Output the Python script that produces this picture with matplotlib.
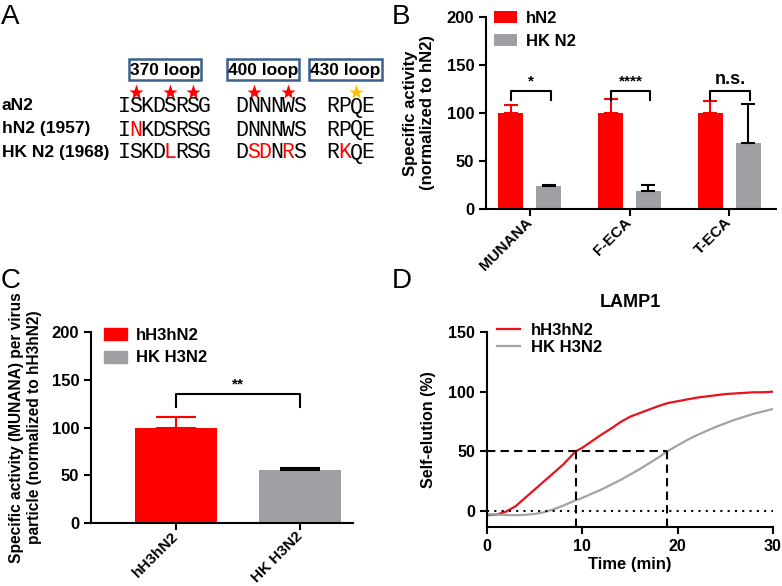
import matplotlib
matplotlib.use("Agg")
import matplotlib.pyplot as plt
from matplotlib.patches import Patch, Rectangle
import numpy as np

plt.rcParams.update({
    "font.family": "Liberation Sans",
    "font.weight": "bold",
    "axes.labelweight": "bold",
    "axes.linewidth": 1.5,
    "xtick.major.width": 1.5,
    "ytick.major.width": 1.5,
    "xtick.major.size": 5,
    "ytick.major.size": 5,
    "xtick.labelsize": 11.5,
    "ytick.labelsize": 11.5,
    "axes.spines.top": False,
    "axes.spines.right": False,
})

W, H = 782, 586
RED = "#ff0000"
GREY = "#a0a0a4"
BOX = "#3b5f8c"

# ── Panel A data ──────────────────────────────────────────────────────────────
strains = ["aN2", "hN2 (1957)", "HK N2 (1968)"]
loops = ["370 loop", "400 loop", "430 loop"]
seqs = [
    ["ISKDSRSG", "DNNNWS", "RPQE"],
    ["INKDSRSG", "DNNNWS", "RPQE"],
    ["ISKDLRSG", "DSDNRS", "RKQE"],
]
# (row, loop) -> indices of residues shown in red
red_res = {(1, 0): [1], (2, 0): [4], (2, 1): [1, 2, 4], (2, 2): [1]}
# residues marked with a star above aN2, and star colour per loop
star_res = [[1, 4, 6], [1, 4], [2]]
star_col = ["#ff0000", "#ff0000", "#ffc000"]

# ── Panel B data ──────────────────────────────────────────────────────────────
substrates = ["MUNANA", "F-ECA", "T-ECA"]
hN2_act = [100, 100, 100]
hN2_err = [8, 15, 13]
HKN2_act = [24, 19, 69]
HKN2_err = [1.5, 6, 40]
sig_B = ["*", "****", "n.s."]

# ── Panel C data ──────────────────────────────────────────────────────────────
viruses = ["hH3hN2", "HK H3N2"]
virus_act = [100, 56]
virus_err = [11, 1.5]
sig_C = "**"

# ── Panel D data (LAMP1 self-elution) ─────────────────────────────────────────
t_red = [0, 1, 2, 3, 4, 5, 6, 7, 8, 9.3, 10, 11, 12, 13, 14, 15, 16, 17, 18,
         19, 20, 21, 22, 23, 24, 25, 26, 27, 28, 29, 30]
elu_red = [-3.5, -3, -0.5, 4, 11, 18, 25, 32, 39, 50, 53, 58.5, 64, 69, 74.5,
           79, 82, 85, 88, 90.5, 92, 93.5, 95, 96, 97, 98, 98.5, 99, 99.5,
           99.5, 100]
t_grey = [0, 1, 2, 3, 4, 5, 6, 7, 8, 9, 10, 11, 12, 13, 14, 15, 16, 17, 18,
          18.9, 20, 21, 22, 23, 24, 25, 26, 27, 28, 29, 30]
elu_grey = [-2.5, -3, -3.3, -3.5, -3.2, -2.5, -1, 1.5, 4.5, 8, 11, 14.5, 18,
            22, 26, 30.5, 35, 40, 45, 50, 55, 59.5, 63.5, 67, 70.5, 73.5,
            76.5, 79, 81.5, 83.5, 85.5]
t50 = [9.3, 18.9]


def fx(x):
    return x / W


def fy(y):
    return 1 - y / H


def axes_px(left, top, right, bottom):
    return [fx(left), fy(bottom), (right - left) / W, (bottom - top) / H]


fig = plt.figure(figsize=(W / 100, H / 100), dpi=100)

# overlay in pixel coordinates for panel A and panel letters
ov = fig.add_axes([0, 0, 1, 1], zorder=-1)
ov.set_xlim(0, W)
ov.set_ylim(H, 0)
ov.axis("off")

for letter, (lx, ly) in zip("ABCD", [(1, 24), (392, 24), (1, 288), (392, 288)]):
    ov.text(lx, ly, letter, fontsize=20, fontweight="normal", va="baseline")

# ── Panel A ──
seq_x0 = [124, 242, 333]
char_w = 11.5
row_y = [106, 129, 152]
box_px = [(129, 201), (227, 299), (309, 382)]

for (bx0, bx1), name in zip(box_px, loops):
    ov.add_patch(Rectangle((bx0, 59), bx1 - bx0, 21, fill=False,
                           edgecolor=BOX, linewidth=1.8))
    ov.text((bx0 + bx1) / 2, 70, name, ha="center", va="center", fontsize=12.5)

for li, idxs in enumerate(star_res):
    xs = [seq_x0[li] + i * char_w for i in idxs]
    ov.plot(xs, [92] * len(xs), ls="none", marker="*", ms=11,
            color=star_col[li], mec="none")

for ri, (strain, row) in enumerate(zip(strains, seqs)):
    ov.text(2, row_y[ri], strain, fontsize=12.5, va="center")
    for li, s in enumerate(row):
        reds = red_res.get((ri, li), [])
        for ci, ch in enumerate(s):
            ov.text(seq_x0[li] + ci * char_w, row_y[ri] + 1, ch,
                    family="Liberation Mono", fontweight="normal",
                    fontsize=15.5, ha="center", va="center",
                    color=RED if ci in reds else "black")


def bracket(ax, x0, x1, y_low, y_top, label, size=12):
    ax.plot([x0, x0, x1, x1], [y_low, y_top, y_top, y_low], color="black",
            lw=1.5, clip_on=False)
    ax.text((x0 + x1) / 2, y_top + 3, label, ha="center", va="bottom",
            fontsize=size)


def rot_labels(ax, labels):
    ax.set_xticklabels(labels, rotation=45, ha="right", va="center",
                       rotation_mode="anchor", fontsize=11)
    ax.tick_params(axis="x", pad=3)


# ── Panel B ──
axB = fig.add_axes(axes_px(486, 17, 776, 209))
xB = np.arange(len(substrates))
off, bw = 0.19, 0.25
axB.bar(xB - off, hN2_act, bw, color=RED, label="hN2")
axB.bar(xB + off, HKN2_act, bw, color=GREY, label="HK N2")
axB.errorbar(xB - off, hN2_act, yerr=[[0] * 3, hN2_err], fmt="none",
             ecolor=RED, elinewidth=1.5, capsize=4.7, capthick=1.5)
axB.errorbar(xB + off, HKN2_act, yerr=[[0] * 3, HKN2_err], fmt="none",
             ecolor="black", elinewidth=1.5, capsize=4.7, capthick=1.5)
for i, lab in enumerate(sig_B):
    bracket(axB, xB[i] - off, xB[i] + off + 0.02, 114, 123, lab,
            size=13 if lab == "n.s." else 11)
axB.set_xlim(-0.44, 2.47)
axB.set_ylim(0, 200)
axB.set_yticks([0, 50, 100, 150, 200])
axB.tick_params(axis="y", labelsize=12)
axB.set_xticks(xB)
rot_labels(axB, substrates)
axB.set_ylabel("Specific activity\n(normalized to hN2)", fontsize=12,
               labelpad=8)
axB.legend(loc="upper left", bbox_to_anchor=(fx(494), fy(11)),
           bbox_transform=fig.transFigure, frameon=False, fontsize=12,
           handlelength=1.4, handleheight=0.7, handletextpad=0.5,
           labelspacing=0.45, borderpad=0, borderaxespad=0)

# ── Panel C ──
axC = fig.add_axes(axes_px(91, 332, 353, 523))
xC = np.arange(len(viruses))
axC.bar(xC, virus_act, 0.66, color=[RED, GREY])
axC.errorbar(xC[:1], virus_act[:1], yerr=[[0], virus_err[:1]], fmt="none",
             ecolor=RED, elinewidth=1.5, capsize=14.5, capthick=1.5)
axC.errorbar(xC[1:], virus_act[1:], yerr=[[0], virus_err[1:]], fmt="none",
             ecolor="black", elinewidth=1.5, capsize=14.5, capthick=1.5)
bracket(axC, xC[0], xC[1], 121.5, 135, sig_C, size=11)
axC.set_xlim(-0.685, 1.427)
axC.set_ylim(0, 200)
axC.set_yticks([0, 50, 100, 150, 200])
axC.tick_params(axis="y", labelsize=12)
axC.set_xticks(xC)
rot_labels(axC, viruses)
axC.set_ylabel("Specific activity (MUNANA) per virus\n"
               "particle (normalized to hH3hN2)", fontsize=11.2, labelpad=7)
axC.legend(handles=[Patch(color=RED, label=viruses[0]),
                    Patch(color=GREY, label=viruses[1])],
           loc="upper left", bbox_to_anchor=(fx(104), fy(328)),
           bbox_transform=fig.transFigure, frameon=False, fontsize=12,
           handlelength=1.4, handleheight=0.7, handletextpad=0.5,
           labelspacing=0.45, borderpad=0, borderaxespad=0)

# ── Panel D ──
axD = fig.add_axes(axes_px(487, 332, 773, 527))
axD.plot(t_red, elu_red, color="#e8121a", lw=1.6, label=viruses[0])
axD.plot(t_grey, elu_grey, color="#a3a3a3", lw=1.6, label=viruses[1])
axD.axhline(0, color="black", ls=(0, (1, 2.5)), lw=1.5)
axD.plot([0, t50[1]], [50, 50], color="black", ls=(0, (4, 2.5)), lw=1.5)
for tt in t50:
    axD.plot([tt, tt], [-13.4, 50], color="black", ls=(0, (4, 2.5)), lw=1.5)
axD.set_xlim(0, 30)
axD.set_ylim(-13.4, 150)
axD.set_xticks([0, 10, 20, 30])
axD.set_yticks([0, 50, 100, 150])
axD.set_xlabel("Time (min)", fontsize=12, labelpad=2)
axD.set_ylabel("Self-elution (%)", fontsize=11.5, labelpad=9)
axD.set_title("LAMP1", fontsize=13, fontweight="bold", pad=18)
axD.legend(loc="upper left", bbox_to_anchor=(fx(497), fy(323)),
           bbox_transform=fig.transFigure, frameon=False, fontsize=12,
           handlelength=1.35, handletextpad=0.7, labelspacing=0.12,
           borderpad=0, borderaxespad=0)

fig.savefig("out.png", dpi=100)
